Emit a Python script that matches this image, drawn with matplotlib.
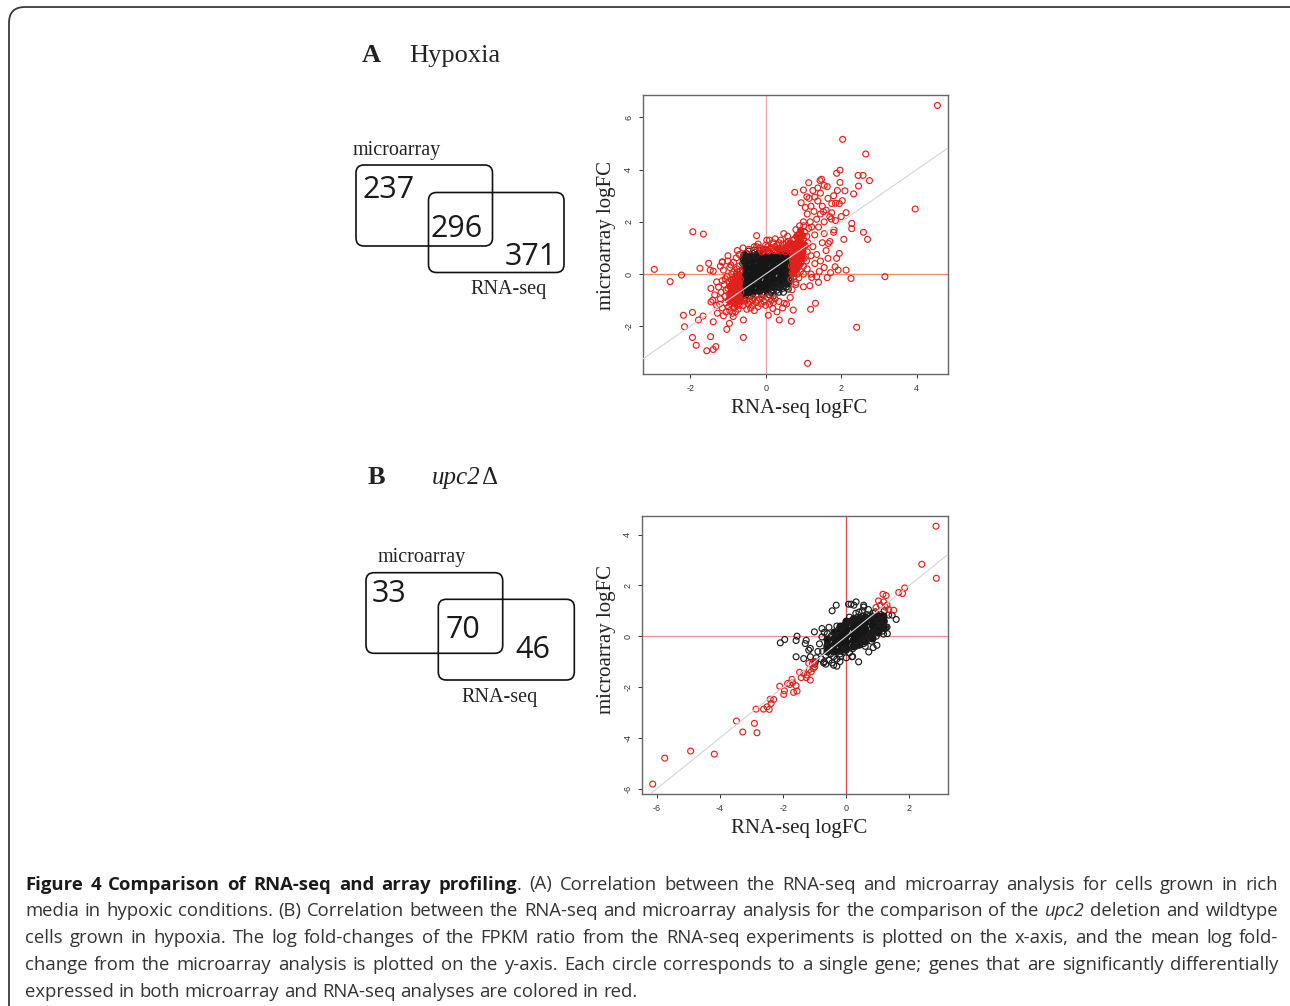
import numpy as np
import matplotlib.pyplot as plt
from matplotlib.patches import FancyBboxPatch

plt.rcParams['axes.unicode_minus'] = False

# ---- panel A (hypoxia) data: RNA-seq logFC vs microarray logFC ----
# dense black core (non significant genes)
a_core = [(-0.55, -0.76), (-0.55, -0.52), (-0.56, -0.27), (-0.55, -0.02), (-0.54, 0.23), (-0.55, 0.46), (-0.55, 0.64),
          (-0.37, -0.69), (-0.38, -0.45), (-0.37, -0.20), (-0.36, 0.05), (-0.37, 0.28), (-0.37, 0.53), (-0.38, 0.66),
          (-0.19, -0.62), (-0.19, -0.38), (-0.20, -0.13), (-0.19, 0.12), (-0.18, 0.35), (-0.19, 0.60), (-0.19, 0.68),
          (0.00, -0.55), (0.01, -0.30), (0.00, -0.05), (-0.01, 0.20), (0.00, 0.45), (0.00, 0.67),
          (0.19, -0.47), (0.19, -0.22), (0.18, 0.03), (0.19, 0.28), (0.20, 0.52), (0.19, 0.70),
          (0.37, -0.40), (0.37, -0.15), (0.38, 0.10), (0.37, 0.35), (0.36, 0.58), (0.37, 0.72),
          (0.55, -0.32), (0.54, -0.08), (0.55, 0.17), (0.55, 0.42), (0.56, 0.64), (0.55, 0.74)]
a_black = [(-0.62, -0.85), (-0.61, -0.60), (-0.63, -0.35), (-0.60, -0.10), (-0.62, 0.15), (-0.61, 0.40), (-0.60, 0.62),
           (-0.50, 0.78), (-0.35, 0.80), (-0.20, 0.79), (-0.05, 0.82), (0.10, 0.80), (0.25, 0.83), (0.40, 0.82),
           (0.55, 0.84), (0.62, 0.78), (-0.55, 0.72), (-0.45, 0.88), (-0.40, 0.68), (-0.30, 0.92), (-0.25, 0.70),
           (-0.60, 0.55), (-0.50, 0.60), (-0.15, 0.90), (-0.05, 0.95), (0.05, 0.90), (-0.58, 0.74),
           (0.62, 0.60), (0.63, 0.35), (0.61, 0.10), (0.62, -0.15), (0.60, -0.38),
           (0.50, -0.45), (0.35, -0.52), (0.20, -0.60), (0.05, -0.68), (-0.10, -0.74), (-0.25, -0.80),
           (-0.40, -0.86), (-0.55, -0.92), (0.30, -0.62), (0.45, -0.55), (0.55, -0.50), (0.60, -0.58),
           (0.15, -0.72), (0.20, -0.85), (0.35, -0.70), (0.47, -0.70), (0.10, -0.80), (0.28, -0.45),
           (0.56, -0.49), (0.40, -0.30), (-0.08, -0.80), (0.62, -0.25)]
# solid red masses either side of the core
a_red_core = [(-0.72, -1.02), (-0.73, -0.78), (-0.71, -0.53), (-0.72, -0.29), (-0.73, -0.05),
              (-0.80, -1.10), (-0.81, -0.86), (-0.79, -0.62), (-0.80, -0.37), (-0.81, -0.12),
              (-0.88, -1.05), (-0.89, -0.80), (-0.87, -0.56), (-0.88, -0.31), (-0.96, -0.95),
              (-0.95, -0.70), (-0.97, -0.45),
              (0.72, 0.05), (0.73, 0.30), (0.71, 0.55), (0.72, 0.80), (0.73, 1.05),
              (0.80, 0.20), (0.81, 0.45), (0.79, 0.70), (0.80, 0.95), (0.81, 1.20), (0.80, 1.45),
              (0.88, 0.40), (0.89, 0.65), (0.87, 0.90), (0.88, 1.15), (0.89, 1.40),
              (0.96, 0.60), (0.97, 0.90), (0.96, 1.20), (0.95, 1.50), (1.05, 1.10), (0.90, 1.70),
              (0.30, 1.00), (0.50, 1.05), (0.62, 1.20)]
a_red = [(4.55, 6.46), (2.04, 5.16), (2.65, 4.60), (1.97, 3.98), (1.88, 3.86), (2.45, 3.78), (2.58, 3.78),
         (2.75, 3.58), (1.48, 3.63), (1.44, 3.58), (1.97, 3.51), (1.63, 3.35), (2.46, 3.37), (2.10, 3.19),
         (2.33, 3.07), (1.14, 3.50), (0.77, 3.13), (1.38, 3.30), (1.00, 3.22), (1.09, 2.96), (0.94, 2.73),
         (3.96, 2.49), (2.13, 2.35), (1.85, 2.71), (2.03, 2.81), (1.53, 2.39), (1.74, 2.11), (2.28, 1.94),
         (2.28, 1.74), (2.59, 1.60), (2.70, 1.33), (2.07, 1.33), (1.81, 1.69), (1.66, 1.17), (3.16, -0.10),
         (2.26, -0.17), (2.13, 0.15), (1.92, 0.15), (1.95, 0.79), (1.88, 0.60), (1.72, 0.05), (1.63, -0.14),
         (1.84, 0.28), (2.41, -2.04), (1.11, -3.42), (1.19, -1.35), (1.32, -1.12), (0.68, -1.81), (0.36, -1.76),
         (0.73, -1.38), (0.49, -1.12), (0.19, -1.32), (0.07, -1.58), (1.40, -0.32), (1.17, -0.45), (1.22, -0.13),
         (1.00, -0.49), (0.80, -0.32),
         (-2.95, 0.18), (-2.53, -0.29), (-2.23, -0.04), (-1.93, 1.62), (-1.65, 1.53), (-1.74, 0.22), (-1.51, 0.41),
         (-1.47, 0.15), (-1.39, 0.11), (-1.15, 0.47), (-2.18, -1.58), (-2.15, -2.02), (-1.94, -1.47), (-1.94, -2.43),
         (-1.84, -2.73), (-1.78, -1.76), (-1.66, -1.61), (-1.56, -2.94), (-1.46, -2.40), (-1.39, -2.89),
         (-1.32, -2.78), (-1.45, -1.07), (-1.39, -1.83), (-1.03, -2.12), (-0.96, -1.89), (-0.59, -2.43),
         (-0.59, -1.76), (-0.86, -1.63), (-0.24, 1.47), (-0.24, 1.05), (-0.13, 0.92), (0.03, 1.30),
         # left cluster
         (-0.68, -1.05), (-0.70, -0.85), (-0.72, -0.60), (-0.69, -0.35), (-0.71, -0.10), (-0.68, 0.12), (-0.70, 0.30),
         (-0.76, -1.20), (-0.78, -0.95), (-0.77, -0.72), (-0.79, -0.48), (-0.75, -0.25), (-0.78, 0.00), (-0.76, 0.20),
         (-0.84, -1.30), (-0.85, -1.05), (-0.83, -0.82), (-0.86, -0.58), (-0.84, -0.35), (-0.82, -0.12), (-0.85, 0.08),
         (-0.91, -1.15), (-0.92, -0.90), (-0.90, -0.68), (-0.93, -0.45), (-0.91, -0.22), (-0.90, 0.00),
         (-0.98, -1.25), (-0.99, -1.00), (-0.97, -0.78), (-1.00, -0.55), (-0.98, -0.30), (-1.02, -0.08),
         (-1.06, -1.10), (-1.08, -0.85), (-1.05, -0.62), (-1.10, -0.40), (-1.07, -0.18),
         (-1.15, -1.30), (-1.20, -0.95), (-1.18, -0.70), (-1.25, -0.50), (-1.15, -0.25), (-1.22, -1.15),
         (-0.73, -1.35), (-0.80, -1.45), (-0.88, -1.50), (-0.95, -1.40), (-1.05, -1.45), (-1.30, -1.20),
         (-1.35, -0.80), (-1.30, -0.30), (-1.40, -1.00), (-1.45, -0.55), (-1.28, -1.50), (-1.12, -1.60),
         (-0.70, -1.20), (-0.66, -0.70), (-0.67, -0.20), (-0.74, 0.08), (-0.80, -0.30), (-0.88, -0.75),
         (-0.94, -1.05), (-0.86, -0.20), (-0.72, -0.48), (-0.75, -0.95), (-1.12, 0.15), (-0.95, 0.25),
         (-1.20, 0.30), (-0.85, 0.45), (-0.78, 0.62), (-0.92, 0.35), (-1.00, 0.50), (-0.70, 0.75),
         (-0.60, 1.00), (-0.75, 0.90), (-1.00, 0.70), (-1.15, 0.45),
         # right cluster
         (0.67, -0.20), (0.70, 0.05), (0.68, 0.30), (0.71, 0.55), (0.69, 0.80), (0.72, 1.00), (0.68, 1.15),
         (0.75, -0.10), (0.77, 0.15), (0.76, 0.40), (0.78, 0.65), (0.75, 0.90), (0.79, 1.15), (0.77, 1.35),
         (0.84, 0.00), (0.85, 0.25), (0.83, 0.50), (0.86, 0.75), (0.84, 1.00), (0.87, 1.25), (0.85, 1.50),
         (0.92, 0.10), (0.93, 0.40), (0.91, 0.65), (0.94, 0.90), (0.92, 1.15), (0.95, 1.40), (0.93, 1.65),
         (1.00, 0.30), (1.02, 0.60), (0.99, 0.85), (1.03, 1.10), (1.00, 1.35), (1.04, 1.60), (1.01, 1.85),
         (1.08, 0.50), (1.10, 0.85), (1.12, 1.20), (1.09, 1.45), (1.14, 1.75), (1.18, 2.00),
         (1.20, 0.70), (1.25, 1.05), (1.30, 1.50), (1.22, 1.80), (1.35, 2.10), (1.28, 2.40), (1.40, 1.80),
         (1.45, 2.30), (1.50, 2.60), (1.38, 2.80), (1.55, 2.00), (1.60, 2.45), (1.65, 2.90), (1.70, 2.20),
         (1.75, 2.70), (1.80, 3.00), (1.20, 2.60), (1.10, 2.30), (1.30, 2.95), (1.45, 3.10), (1.55, 3.40),
         (1.90, 3.20), (1.25, 3.20), (1.00, 2.00), (0.90, 1.85), (1.15, 2.90), (1.05, 2.55), (0.72, 1.30),
         (0.80, 1.70), (0.88, -0.15), (1.00, 0.00), (1.10, 0.20), (1.30, 0.40), (1.20, 0.00), (1.35, 0.75),
         (1.50, 1.20), (1.45, 0.50), (1.60, 0.90), (1.55, 1.55), (1.70, 1.25), (1.65, 0.60), (1.80, 1.60),
         (1.75, 2.35), (1.42, 0.10), (1.35, -0.10), (1.55, 0.25), (1.95, 2.70), (2.00, 2.20), (1.85, 2.05),
         # halo round the core
         (-0.45, 0.95), (-0.30, 1.05), (-0.15, 1.00), (0.00, 1.10), (0.12, 0.95), (0.25, 1.05), (0.35, 0.95),
         (0.45, 1.15), (0.55, 1.00), (0.60, 1.25), (0.20, 1.20), (0.40, 1.30), (-0.05, 0.92), (0.30, 0.90),
         (0.50, 0.92), (0.10, 1.30), (0.58, 1.45), (0.48, 1.55), (0.25, 1.35), (-0.20, 1.15),
         (-0.10, 0.85), (0.00, 0.95), (0.08, 0.88), (0.15, 1.00), (0.22, 0.90), (0.30, 1.10), (0.38, 0.88),
         (0.45, 1.00), (0.52, 0.85), (0.60, 0.95), (0.62, 1.10), (0.55, 1.20), (0.35, 1.20), (0.05, 1.05),
         (-0.55, -1.05), (-0.45, -1.15), (-0.35, -1.00), (-0.25, -1.10), (-0.15, -0.95), (-0.05, -1.05),
         (0.05, -0.90), (0.15, -1.00), (-0.40, -1.30), (-0.20, -1.25), (0.00, -1.20), (0.25, -0.95),
         (-0.50, -1.35), (-0.60, -1.20), (-0.30, -1.40), (0.10, -1.15), (0.20, -1.10), (0.35, -1.05),
         (0.55, -1.15), (0.30, -1.45), (0.45, -1.30), (0.70, -0.60), (0.80, -0.40), (0.65, -0.90),
         (-0.60, -1.00), (-0.50, -0.98), (-0.42, -1.05), (-0.32, -0.92), (-0.22, -1.00), (-0.10, -0.90),
         (-0.35, -1.20), (-0.12, -1.15)]

# ---- panel B (upc2 deletion) data ----
b_core = [(-0.60, -0.60), (-0.60, -0.35), (-0.60, -0.10),
          (-0.40, -0.57), (-0.40, -0.32), (-0.40, -0.07), (-0.40, 0.18),
          (-0.20, -0.53), (-0.20, -0.28), (-0.20, -0.03), (-0.20, 0.22), (-0.20, 0.40),
          (0.00, -0.47), (0.00, -0.22), (0.00, 0.03), (0.00, 0.28), (0.00, 0.53), (0.00, 0.60),
          (0.20, -0.40), (0.20, -0.15), (0.20, 0.10), (0.20, 0.35), (0.20, 0.60), (0.20, 0.67),
          (0.40, -0.30), (0.40, -0.05), (0.40, 0.20), (0.40, 0.45), (0.40, 0.70),
          (0.60, -0.20), (0.60, 0.05), (0.60, 0.30), (0.60, 0.55), (0.60, 0.75),
          (0.80, -0.07), (0.80, 0.18), (0.80, 0.43), (0.80, 0.68), (0.80, 0.78),
          (1.00, 0.15), (1.00, 0.40), (1.00, 0.65), (1.00, 0.80), (1.15, 0.35), (1.15, 0.60), (1.15, 0.80)]
b_black = [(-0.80, -0.90), (-0.75, -0.60), (-0.70, -1.00), (-0.65, -0.75), (-0.62, -0.45), (-0.60, -0.20),
           (-0.55, -0.95), (-0.50, -0.70), (-0.48, 0.00), (-0.45, -1.05), (-0.40, -0.80), (-0.38, 0.15),
           (-0.30, -0.90), (-0.25, 0.25), (-0.20, -0.70), (-0.15, 0.35), (-0.10, -0.60), (-0.05, 0.45),
           (0.00, -0.55), (0.05, 0.55), (0.10, -0.65), (0.15, 0.60), (0.20, -0.50), (0.25, 0.70),
           (0.30, -0.40), (0.35, 0.75), (0.40, -0.35), (0.45, 0.70), (0.50, -0.20), (0.55, 0.80),
           (0.60, -0.10), (0.65, 0.85), (0.70, 0.00), (0.75, 0.80), (0.80, 0.10), (0.85, 0.90),
           (0.90, 0.15), (0.95, 0.75), (1.00, 0.30), (1.05, 0.60), (1.10, 0.45), (1.15, 0.20),
           (1.20, 0.60), (1.25, 0.35), (1.10, 0.85), (0.95, 0.00), (-0.90, -0.60), (-0.85, -0.30),
           (-0.95, -0.85), (-1.00, -1.10), (-0.60, 0.10), (-0.30, 0.40), (0.10, 0.75), (0.40, 0.95),
           (0.20, -0.80), (0.00, -0.85), (-0.20, -1.00), (0.60, -0.40), (0.80, -0.20), (1.30, 0.10),
           (0.50, 1.00), (0.70, 1.05), (-0.65, -1.10), (0.30, 0.90),
           (-1.95, -0.13), (-2.09, -0.26), (-1.56, 0.00), (-1.59, -0.81), (-1.59, -0.17), (-0.45, 1.00),
           (-0.32, 1.22), (0.07, 1.26), (0.31, 1.35), (0.15, 1.26), (-1.01, 0.17), (-0.77, 0.30),
           (-1.27, -0.16), (-1.19, -0.55), (-1.14, -0.81), (-0.30, -1.18), (-0.72, -1.05), (0.18, -0.81),
           (0.55, -0.29), (1.58, 0.66), (1.45, 0.83), (1.23, 0.30), (1.18, 0.08), (0.55, 1.15), (0.92, 0.96),
           (-1.30, -0.29), (-0.77, -0.03), (-1.14, -0.48), (-1.35, -0.88), (-0.98, -1.01), (-0.40, -1.14),
           (-0.19, -0.81), (0.39, -1.01), (0.71, -0.62), (0.97, -0.36), (1.29, 0.36), (1.34, 0.83),
           (0.55, 1.22), (0.24, 1.22), (-0.55, 0.35), (-0.70, 0.15), (1.20, 1.00), (0.85, -0.45)]
b_red = [(2.84, 4.33), (2.39, 2.83), (2.85, 2.28), (1.85, 1.90), (1.66, 1.72), (1.78, 1.68), (1.16, 1.65),
         (1.26, 1.60), (1.02, 1.39), (1.18, 1.35), (1.29, 1.22), (1.50, 1.02), (1.34, 1.05), (1.08, 1.22),
         (0.94, 1.13), (1.23, 1.15),
         (-6.13, -5.82), (-5.75, -4.80), (-4.93, -4.52), (-4.18, -4.64), (-3.48, -3.34), (-3.28, -3.77),
         (-2.91, -3.43), (-2.83, -3.80), (-2.86, -2.87), (-2.62, -2.87), (-2.51, -2.78), (-2.44, -2.88),
         (-2.38, -2.65), (-2.41, -2.48), (-2.30, -2.49), (-2.11, -1.97), (-1.98, -2.29), (-1.96, -2.15),
         (-1.86, -1.86), (-1.79, -1.90), (-1.72, -1.70), (-1.70, -1.83), (-1.67, -2.21), (-1.56, -2.16),
         (-1.59, -1.95), (-1.48, -1.42), (-1.43, -1.63), (-1.35, -1.47), (-1.27, -1.63), (-1.24, -1.53),
         (-1.19, -1.07), (-1.17, -1.31), (-1.14, -1.73), (-1.11, -1.40), (-1.07, -1.07), (-1.05, -1.27),
         (-1.00, -1.21), (-1.02, -1.01)]

venn_a = ["237", "296", "371"]
venn_b = ["33", "70", "46"]

caption = [
    "**Figure 4 Comparison of RNA-seq and array profiling**. (A) Correlation between the RNA-seq and microarray analysis for cells grown in rich",
    "media in hypoxic conditions. (B) Correlation between the RNA-seq and microarray analysis for the comparison of the _upc2_ deletion and wildtype",
    "cells grown in hypoxia. The log fold-changes of the FPKM ratio from the RNA-seq experiments is plotted on the x-axis, and the mean log fold-",
    "change from the microarray analysis is plotted on the y-axis. Each circle corresponds to a single gene; genes that are significantly differentially",
    "expressed in both microarray and RNA-seq analyses are colored in red.",
]

W, H = 1290, 1006
fig = plt.figure(figsize=(W / 100, H / 100), dpi=100)
bg = fig.add_axes([0, 0, 1, 1])
bg.set_xlim(0, W)
bg.set_ylim(H, 0)
bg.axis('off')
rend = fig.canvas.get_renderer()

SERIF = 'Liberation Serif'
SANS = 'Open Sans'
RED = '#e3211c'

# outer frame
bg.add_patch(FancyBboxPatch((9, 7), 1330, 1060, boxstyle='round,pad=0,rounding_size=16',
                            fill=False, ec='#3a3a3a', lw=1.3))


def px_axes(l, t, r, b):
    return fig.add_axes([l / W, 1 - b / H, (r - l) / W, (b - t) / H])


def panel(ax, core, black, red, red_core, xlim, ylim, xt, yt, lcol, core_s):
    ax.axhline(0, color=lcol[0], lw=0.9, zorder=1)
    ax.axvline(0, color=lcol[1], lw=0.9, zorder=1)
    c = np.array(core)
    ax.scatter(c[:, 0], c[:, 1], s=core_s, c='#161616', lw=0, zorder=2)
    k = np.array(black)
    ax.scatter(k[:, 0], k[:, 1], s=18, facecolors='none', edgecolors='#1e1e1e', linewidths=0.85, zorder=2)
    if red_core:
        rc = np.array(red_core)
        ax.scatter(rc[:, 0], rc[:, 1], s=26, c=RED, lw=0, zorder=3)
    r = np.array(red)
    ax.scatter(r[:, 0], r[:, 1], s=18, facecolors='none', edgecolors=RED, linewidths=0.85, zorder=3)
    ax.plot([-10, 10], [-10, 10], color='#d4d4d4', lw=0.8, zorder=4)
    ax.set_xlim(*xlim)
    ax.set_ylim(*ylim)
    ax.set_xticks(xt)
    ax.set_yticks(yt)
    ax.set_xticklabels([str(v) for v in xt])
    ax.set_yticklabels([str(v) for v in yt], rotation=90, va='center')
    ax.tick_params(length=3, width=0.7, pad=4, labelsize=6.5, colors='#333333')
    for lab in ax.get_xticklabels() + ax.get_yticklabels():
        lab.set_family('Liberation Sans')
    for s in ax.spines.values():
        s.set_color('#666666')
        s.set_linewidth(1.0)


axA = px_axes(643, 95, 948, 374)
panel(axA, a_core, a_black, a_red, a_red_core, (-3.25, 4.83), (-3.83, 6.86), [-2, 0, 2, 4], [-2, 0, 2, 4, 6],
      ('#f08a6a', '#f3a5a5'), 42)
axB = px_axes(642, 516, 948, 794)
panel(axB, b_core, b_black, b_red, None, (-6.47, 3.22), (-6.21, 4.73), [-6, -4, -2, 0, 2], [-6, -4, -2, 0, 2, 4],
      ('#f29090', '#e64444'), 34)

# axis titles
for yc in (409, 829):
    bg.text(798.7, yc, 'RNA-seq logFC', family=SERIF, fontsize=15, ha='center', va='center', color='#222')
for yc in (235, 640):
    bg.text(607, yc, 'microarray logFC', family=SERIF, fontsize=15, ha='center', va='center',
            rotation=90, color='#222')

# panel headings
bg.text(362, 62, 'A', family=SERIF, fontsize=19, fontweight='bold', color='#222')
bg.text(409, 62, 'Hypoxia', family=SERIF, fontsize=19, color='#222')
bg.text(368, 484, 'B', family=SERIF, fontsize=19, fontweight='bold', color='#222')
t = bg.text(432, 484, 'upc2', family=SERIF, fontsize=18, fontstyle='italic', color='#222')
bg.text(432 + t.get_window_extent(rend).width + 1, 484, 'Δ', family=SERIF, fontsize=18, color='#222')


def venn(b1, b2, labs, pos, mic, rna):
    for (l, tp, r, bt) in (b1, b2):
        bg.add_patch(FancyBboxPatch((l, tp), r - l, bt - tp, boxstyle='round,pad=0,rounding_size=8',
                                    fill=False, ec='#111', lw=1.2))
    for s, (x, y) in zip(labs, pos):
        bg.text(x, y, s, family=SANS, fontsize=22, color='#1a1a1a', va='baseline')
    bg.text(mic[0], mic[1], 'microarray', family=SERIF, fontsize=14.5, color='#222', va='baseline')
    bg.text(rna[0], rna[1], 'RNA-seq', family=SERIF, fontsize=14.5, color='#222', va='baseline')


venn((356, 165, 492.5, 246), (428.5, 192.5, 564, 272.5), venn_a,
     [(362, 198), (431, 237), (505, 265)], (352.5, 155), (470, 294))
venn((366, 572.7, 502.7, 653.3), (438.3, 599.3, 574.3, 680), venn_b,
     [(372, 602), (446, 638.5), (515, 658.5)], (377.3, 561.7), (461, 702))


# caption, justified word by word
def parse(line):
    words, bold, ital = [], False, False
    for raw in line.split(' '):
        segs, buf, i = [], '', 0
        while i < len(raw):
            if raw.startswith('**', i):
                if buf:
                    segs.append((buf, bold, ital))
                    buf = ''
                bold = not bold
                i += 2
            elif raw[i] == '_':
                if buf:
                    segs.append((buf, bold, ital))
                    buf = ''
                ital = not ital
                i += 1
            else:
                buf += raw[i]
                i += 1
        if buf:
            segs.append((buf, bold, ital))
        words.append(segs)
    return words


CAP_FS = 13.3
x0, x1 = 25, 1278
probe = bg.text(0, 0, 'a a', family=SANS, fontsize=CAP_FS)
probe2 = bg.text(0, 0, 'aa', family=SANS, fontsize=CAP_FS)
space = probe.get_window_extent(rend).width - probe2.get_window_extent(rend).width
probe.remove()
probe2.remove()

for n, line in enumerate(caption):
    y = 889.5 + n * 26.8
    arts = []
    for segs in parse(line):
        ts = [bg.text(0, y, s, family=SANS, fontsize=CAP_FS, fontweight='bold' if b else 'normal',
                      fontstyle='italic' if it else 'normal', color='#1a1a1a' if b else '#333333',
                      va='baseline') for s, b, it in segs]
        arts.append(ts)
    widths = [sum(t.get_window_extent(rend).width for t in ts) for ts in arts]
    gap = (x1 - x0 - sum(widths)) / (len(arts) - 1) if n < len(caption) - 1 else space
    x = x0
    for ts, w in zip(arts, widths):
        for t in ts:
            t.set_x(x)
            x += t.get_window_extent(rend).width
        x += gap

fig.savefig('out.png', dpi=100)
